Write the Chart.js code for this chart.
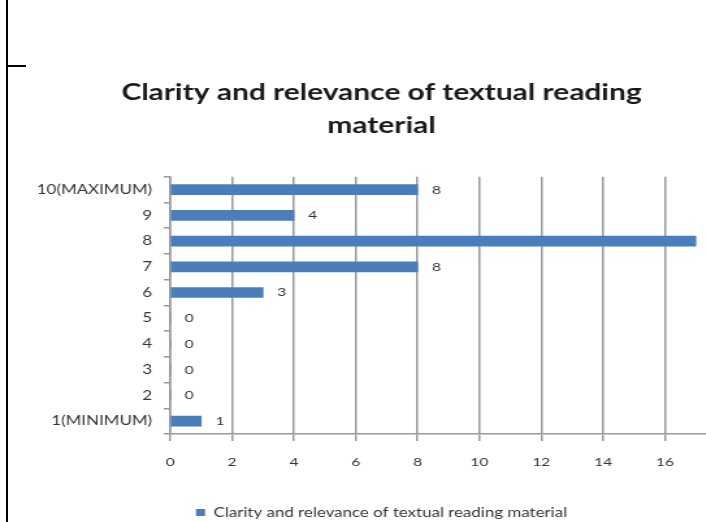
<!DOCTYPE html>
<html lang="en">
<head>
  <meta charset="UTF-8" />
  <title>Clarity and relevance of textual reading material</title>
  <script src="https://cdn.jsdelivr.net/npm/chart.js"></script>
  <style>
    body { margin: 0; overflow: hidden; background: #fff; width: 706px; height: 522px; position: relative; }
    #wrap { position: absolute; left: 0; top: 0; width: 580px; height: 522px; transform: scaleX(1.3); transform-origin: 0 0; }
    .rule { position: absolute; background: #000; }
  </style>
</head>
<body>
  <div class="rule" style="left:6px;top:0;width:2px;height:522px"></div>
  <div class="rule" style="left:7px;top:65px;width:19px;height:2px"></div>
  <div id="wrap"><canvas id="chart" width="580" height="522"></canvas></div>

  <script>
    const categories = ['10(MAXIMUM)', '9', '8', '7', '6', '5', '4', '3', '2', '1(MINIMUM)'];
    const counts = [8, 4, 17, 8, 3, 0, 0, 0, 0, 1];
    const seriesName = 'Clarity and relevance of textual reading material';
    const titleLines = ['Clarity and relevance of textual reading', 'material'];

    // value labels to the right of each bar
    const barLabels = {
      id: 'barLabels',
      afterDatasetsDraw(chart) {
        const ctx = chart.ctx;
        ctx.save();
        ctx.font = '12px Lato';
        ctx.fillStyle = '#333';
        ctx.textAlign = 'left';
        ctx.textBaseline = 'middle';
        chart.getDatasetMeta(0).data.forEach((bar, i) => {
          ctx.fillText(counts[i], bar.x + 11, bar.y);
        });
        ctx.restore();
      }
    };

    new Chart(document.getElementById('chart'), {
      type: 'bar',
      data: {
        labels: categories,
        datasets: [{
          label: seriesName,
          data: counts,
          backgroundColor: '#4a7ebb',
          barThickness: 10
        }]
      },
      options: {
        indexAxis: 'y',
        responsive: false,
        animation: false,
        layout: { padding: { top: 76, left: 7, right: 0, bottom: -7 } },
        plugins: {
          title: {
            display: true,
            text: titleLines,
            color: '#1a1a1a',
            font: { family: 'Lato', size: 23, weight: 'bold', lineHeight: 1.43 },
            padding: { top: 0, bottom: 35 }
          },
          legend: {
            position: 'bottom',
            labels: {
              color: '#333',
              font: { family: 'Lato', size: 13 },
              boxWidth: 7,
              boxHeight: 7,
              padding: 1
            }
          },
          tooltip: { enabled: false }
        },
        scales: {
          x: {
            min: 0,
            max: 18,
            ticks: { stepSize: 2, color: '#333', font: { family: 'Lato', size: 12 }, padding: 14 },
            grid: { color: '#999', lineWidth: 1.5, tickLength: 7 },
            border: { color: '#999', width: 1.5 },
            afterFit: s => { s.height = 71; }
          },
          y: {
            ticks: { color: '#333', font: { family: 'Lato', size: 13 }, padding: 9 },
            grid: { drawOnChartArea: false, color: '#999', lineWidth: 1.5, tickLength: 5 },
            border: { color: '#999', width: 1.5 },
            afterFit: s => { s.width = 124; }
          }
        }
      },
      plugins: [barLabels]
    });
  </script>
</body>
</html>
